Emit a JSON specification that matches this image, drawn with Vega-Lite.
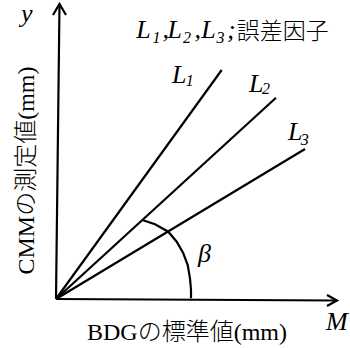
{
  "$schema": "https://vega.github.io/schema/vega-lite/v6.json",
  "width": 350,
  "height": 348,
  "autosize": "none",
  "padding": 0,
  "background": "white",
  "config": {"view": {"stroke": null}},
  "datasets": {
    "paths": [
      {"path": "xaxis", "o": 0, "x": 0, "y": 0},
      {"path": "xaxis", "o": 1, "x": 281, "y": -1.5},
      {"path": "xhead", "o": 0, "x": 271, "y": 4},
      {"path": "xhead", "o": 1, "x": 281, "y": -1.5},
      {"path": "xhead", "o": 2, "x": 271, "y": -7},
      {"path": "yaxis", "o": 0, "x": 0, "y": 0},
      {"path": "yaxis", "o": 1, "x": 3.5, "y": 295},
      {"path": "yhead", "o": 0, "x": -3, "y": 284},
      {"path": "yhead", "o": 1, "x": 3.5, "y": 295},
      {"path": "yhead", "o": 2, "x": 10, "y": 284},
      {"path": "L1", "o": 0, "x": 0, "y": 0},
      {"path": "L1", "o": 1, "x": 165.7, "y": 229},
      {"path": "L2", "o": 0, "x": 0, "y": 0},
      {"path": "L2", "o": 1, "x": 220, "y": 201.3},
      {"path": "L3", "o": 0, "x": 0, "y": 0},
      {"path": "L3", "o": 1, "x": 249, "y": 150},
      {"path": "arc", "o": 0, "x": 86.3, "y": 79},
      {"path": "arc", "o": 1, "x": 99, "y": 74.7},
      {"path": "arc", "o": 2, "x": 112.3, "y": 67.3},
      {"path": "arc", "o": 3, "x": 120.7, "y": 57.3},
      {"path": "arc", "o": 4, "x": 127.3, "y": 45.7},
      {"path": "arc", "o": 5, "x": 131.7, "y": 34},
      {"path": "arc", "o": 6, "x": 134, "y": 20.7},
      {"path": "arc", "o": 7, "x": 135, "y": 9},
      {"path": "arc", "o": 8, "x": 135, "y": 0.7}
    ],
    "labels": [
      {"kind": "it", "text": "y", "x": -35, "y": 277},
      {"kind": "it", "text": "L", "x": 116, "y": 215.7},
      {"kind": "it", "text": "L", "x": 193, "y": 207.3},
      {"kind": "it", "text": "L", "x": 232, "y": 159},
      {"kind": "it", "text": "L", "x": 80.2, "y": 260.7},
      {"kind": "it", "text": "L", "x": 111.5, "y": 260.7},
      {"kind": "it", "text": "L", "x": 145.2, "y": 260.7},
      {"kind": "it", "text": ",", "x": 106.5, "y": 260.7},
      {"kind": "it", "text": ",", "x": 138.5, "y": 260.7},
      {"kind": "it", "text": ";", "x": 171, "y": 260.7},
      {"kind": "it", "text": "M", "x": 270, "y": -31},
      {"kind": "it", "text": "β", "x": 142, "y": 37},
      {"kind": "sub", "text": "1", "x": 96.5, "y": 255.7},
      {"kind": "sub", "text": "2", "x": 127, "y": 255.7},
      {"kind": "sub", "text": "3", "x": 160.5, "y": 255.7},
      {"kind": "sub", "text": "1", "x": 129.7, "y": 213.3},
      {"kind": "sub", "text": "2", "x": 206, "y": 204.7},
      {"kind": "sub", "text": "3", "x": 244.7, "y": 154},
      {"kind": "jp", "text": "誤差因子", "x": 180.7, "y": 260.5}
    ]
  },
  "encoding": {
    "x": {
      "field": "x", "type": "quantitative",
      "scale": {"domain": [-56, 294], "nice": false, "zero": false},
      "axis": {
        "domain": false, "ticks": false, "labels": false, "grid": false,
        "title": "BDGの標準値(mm)",
        "titleFont": "Liberation Serif, Noto Sans CJK JP",
        "titleFontSize": 24, "titleFontWeight": 300, "titleColor": "black",
        "titleX": 186.5, "titleY": -9, "titleAlign": "center", "titleBaseline": "alphabetic"
      }
    },
    "y": {
      "field": "y", "type": "quantitative",
      "scale": {"domain": [-49, 299], "nice": false, "zero": false},
      "axis": {
        "domain": false, "ticks": false, "labels": false, "grid": false,
        "title": "CMMの測定値(mm)",
        "titleFont": "Liberation Serif, Noto Sans CJK JP",
        "titleFontSize": 24, "titleFontWeight": 300, "titleColor": "black",
        "titleX": 33, "titleY": 170, "titleAlign": "center", "titleBaseline": "alphabetic", "titleAngle": -90
      }
    }
  },
  "layer": [
    {
      "data": {"name": "paths"},
      "mark": {"type": "line", "color": "black", "strokeWidth": 2.2, "strokeJoin": "miter"},
      "encoding": {
        "detail": {"field": "path", "type": "nominal"},
        "order": {"field": "o", "type": "quantitative"}
      }
    },
    {
      "data": {"name": "labels"},
      "transform": [{"filter": "datum.kind === 'it'"}],
      "mark": {"type": "text", "font": "Liberation Serif", "fontStyle": "italic", "fontSize": 26, "align": "left", "baseline": "alphabetic", "color": "black"},
      "encoding": {"text": {"field": "text", "type": "nominal"}}
    },
    {
      "data": {"name": "labels"},
      "transform": [{"filter": "datum.kind === 'sub'"}],
      "mark": {"type": "text", "font": "Liberation Serif", "fontStyle": "italic", "fontSize": 16, "align": "left", "baseline": "alphabetic", "color": "black"},
      "encoding": {"text": {"field": "text", "type": "nominal"}}
    },
    {
      "data": {"name": "labels"},
      "transform": [{"filter": "datum.kind === 'jp'"}],
      "mark": {"type": "text", "font": "Noto Sans CJK JP", "fontWeight": 300, "fontSize": 23, "align": "left", "baseline": "alphabetic", "color": "black"},
      "encoding": {"text": {"field": "text", "type": "nominal"}}
    }
  ]
}
